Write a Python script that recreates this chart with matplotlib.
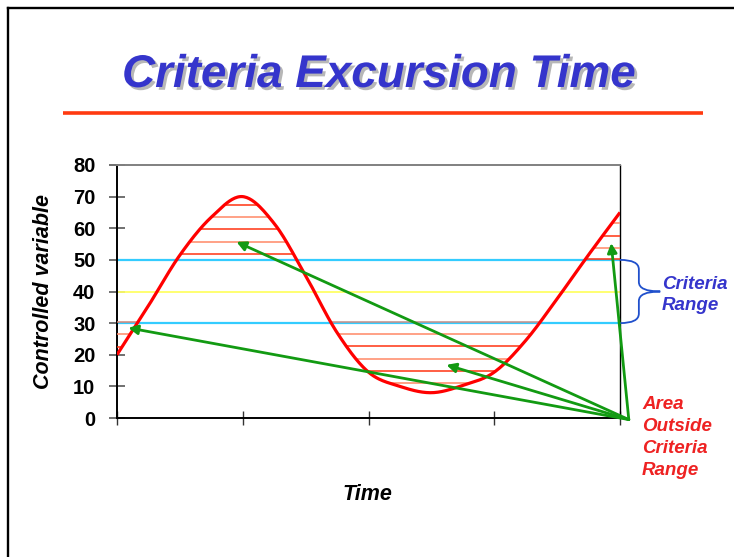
import numpy as np
import matplotlib
matplotlib.use("Agg")
import matplotlib.pyplot as plt
from matplotlib.lines import Line2D
from matplotlib.path import Path
from matplotlib.patches import PathPatch
import matplotlib.patheffects as pe

plt.rcParams['font.family'] = ['Liberation Sans', 'DejaVu Sans']

# ---- data ----
time_pts = [0, 0.25, 0.5, 0.75, 1.0, 1.25, 1.5, 1.75, 2.0, 2.25, 2.5, 2.75, 3.0, 3.25, 3.5, 3.75, 4.0]
values = [20, 35.5, 51.5, 63.5, 70, 61.5, 45, 27, 14.5, 10, 8, 10.3, 14.5, 24.5, 37.7, 51.6, 65]
criteria_low = 30
criteria_high = 50
criteria_mid = 40
yticks = [0, 10, 20, 30, 40, 50, 60, 70, 80]
xticks = [0, 1, 2, 3, 4]

# hatch levels per region
hatch_upper_peak = [52, 55.7, 59.8, 63.6, 67.4]
hatch_upper_end = [50.3, 53.8, 57.6, 61.6]
hatch_lower_trough = [30.4, 26.6, 22.8, 18.7, 14.9, 11.1]
hatch_lower_start = [30.4, 26.6, 22.6]

# arrows (origin and targets in data coords)
arrow_origin = (4.07, -0.5)
arrow_targets = [(0.09, 28.5), (0.95, 55.7), (2.62, 16.8), (3.93, 55.3)]


def catmull_rom(x, y, n=24):
    x = np.asarray(x, float); y = np.asarray(y, float)
    px = np.concatenate([[2 * x[0] - x[1]], x, [2 * x[-1] - x[-2]]])
    py = np.concatenate([[2 * y[0] - y[1]], y, [2 * y[-1] - y[-2]]])
    xs, ys = [], []
    for i in range(1, len(px) - 2):
        s = np.linspace(0, 1, n, endpoint=False)
        for P, out in ((px, xs), (py, ys)):
            p0, p1, p2, p3 = P[i - 1], P[i], P[i + 1], P[i + 2]
            out.extend(0.5 * ((2 * p1) + (-p0 + p2) * s + (2 * p0 - 5 * p1 + 4 * p2 - p3) * s ** 2
                              + (-p0 + 3 * p1 - 3 * p2 + p3) * s ** 3))
    xs.append(x[-1]); ys.append(y[-1])
    return np.array(xs), np.array(ys)


W, H = 734, 557
fig = plt.figure(figsize=(W / 100, H / 100), dpi=100)
fig.patch.set_facecolor('white')

def fx(px):
    return px / W

def fy(py):
    return (H - py) / H

# slide border
fig.add_artist(Line2D([fx(8), fx(8)], [fy(7.5), 0], color='black', lw=1.7))
fig.add_artist(Line2D([fx(8), 1], [fy(7.5), fy(7.5)], color='black', lw=1.7))

# title
fig.text(fx(379), fy(75), 'Criteria Excursion Time', ha='center', va='center',
         fontsize=33, fontweight='bold', fontstyle='italic', color='#3535cc',
         path_effects=[pe.SimplePatchShadow(offset=(2, -2), shadow_rgbFace='#999999', alpha=0.7),
                       pe.Normal()])
fig.add_artist(Line2D([fx(63), fx(703)], [fy(113), fy(113)], color='#ff3a10', lw=2.6,
                      solid_capstyle='butt'))

ax = fig.add_axes([fx(117), fy(418), fx(620) - fx(117), (418 - 165) / H])
ax.set_xlim(0, 4)
ax.set_ylim(0, 80)

xs, ys = catmull_rom(time_pts, values)

# criteria lines
ax.axhline(criteria_high, color='#33ccff', lw=1.6, zorder=2)
ax.axhline(criteria_low, color='#33ccff', lw=1.6, zorder=2)
ax.axhline(criteria_mid, color='#ffff66', lw=1.3, zorder=2)

hatch_colors = ['#ff3311', '#ff8866']

def draw_hatch(levels, a, b, above, first_color=None):
    for k, L in enumerate(levels):
        m = (xs >= a) & (xs <= b) & ((ys > L) if above else (ys < L))
        if not m.any():
            continue
        x0, x1 = xs[m].min(), xs[m].max()
        c = hatch_colors[k % 2]
        if k == 0 and first_color:
            c = first_color
        ax.hlines(L, x0, x1, color=c, lw=1.1, zorder=3, clip_on=False)

draw_hatch(hatch_upper_peak, 0, 2, True)
draw_hatch(hatch_upper_end, 3.5, 4.0, True)
draw_hatch(hatch_lower_trough, 1.5, 3.5, False, first_color='#c89088')
draw_hatch(hatch_lower_start, 0, 0.5, False, first_color='#d88878')

ax.plot(xs, ys, color='#ff0000', lw=2.3, zorder=4, solid_capstyle='butt')

# arrows
for tx, ty in arrow_targets:
    ax.annotate('', xy=(tx, ty), xytext=arrow_origin, xycoords='data', textcoords='data',
                arrowprops=dict(arrowstyle='-|>,head_length=0.55,head_width=0.28',
                                color='#129a12', lw=2.0, shrinkA=0, shrinkB=0),
                annotation_clip=False, zorder=6)

# brace
verts = [(4.0, 50), (4.15, 50), (4.15, 47), (4.15, 43), (4.15, 40), (4.32, 40),
         (4.15, 40), (4.15, 37), (4.15, 33), (4.15, 30), (4.0, 30)]
codes = [Path.MOVETO, Path.CURVE3, Path.CURVE3, Path.LINETO, Path.CURVE3, Path.CURVE3,
         Path.CURVE3, Path.CURVE3, Path.LINETO, Path.CURVE3, Path.CURVE3]
ax.add_patch(PathPatch(Path(verts, codes), fill=False, edgecolor='#2050cc', lw=1.3,
                       clip_on=False, zorder=5))

# spines & ticks
for s in ['left', 'bottom']:
    ax.spines[s].set_color('black')
    ax.spines[s].set_linewidth(1.4)
ax.spines['top'].set_color('#808080')
ax.spines['top'].set_linewidth(1.4)
ax.spines['right'].set_color('black')
ax.spines['right'].set_linewidth(1.0)

ax.set_yticks(yticks)
ax.set_yticklabels([str(v) for v in yticks], fontsize=14.5, fontweight='bold')
ax.tick_params(axis='y', direction='inout', length=12, width=1.4, color='#707070', pad=9.5)
ax.set_xticks(xticks)
ax.set_xticklabels([])
ax.tick_params(axis='x', direction='inout', length=9.5, width=1.0, color='#333333')

ax.set_ylabel('Controlled variable', fontsize=15.5, fontweight='bold', fontstyle='italic')
ax.yaxis.set_label_coords(-0.125, 0.5)
ax.set_xlabel('Time', fontsize=15.5, fontweight='bold', fontstyle='italic')
ax.xaxis.set_label_coords(0.497, -0.262)

# side annotations
fig.text(fx(662), fy(295), 'Criteria\nRange', ha='left', va='center', fontsize=13.5,
         fontweight='bold', fontstyle='italic', color='#3535cc', linespacing=1.37)
fig.text(fx(642), fy(437.5), 'Area\nOutside\nCriteria\nRange', ha='left', va='center',
         fontsize=13.5, fontweight='bold', fontstyle='italic', color='#ee2222', linespacing=1.37)

fig.savefig('out.png', dpi=100, facecolor='white')
